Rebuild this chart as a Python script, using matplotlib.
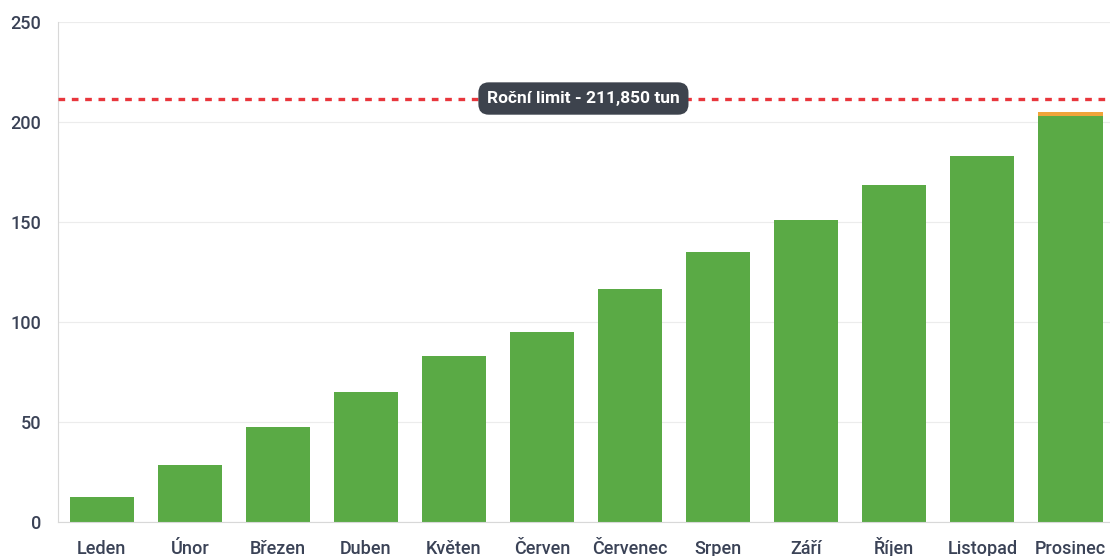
import matplotlib.pyplot as plt

# Monthly cumulative values (tonnes, thousands)
months = ["Leden", "Únor", "Březen", "Duben", "Květen", "Červen",
          "Červenec", "Srpen", "Září", "Říjen", "Listopad", "Prosinec"]
green_values = [12.5, 28.5, 47.5, 65, 83, 95, 116.5, 135, 151, 168.5, 183, 203]
orange_values = [0, 0, 0, 0, 0, 0, 0, 0, 0, 0, 0, 2]
limit_value = 211.85
limit_label = "Roční limit - 211,850 tun"
y_ticks = [0, 50, 100, 150, 200, 250]

plt.rcParams["font.family"] = ["Roboto", "DejaVu Sans"]

fig = plt.figure(figsize=(11.1, 5.56), dpi=100)
ax = fig.add_axes([0.052, 0.061, 0.952, 0.899])

x = range(len(months))
ax.bar(x, green_values, width=0.73, color="#5aaa45", zorder=2)
ax.bar(x, orange_values, width=0.73, bottom=green_values, color="#f0a43a", zorder=2)

ax.axhline(limit_value, color="#e8363c", linestyle=(0, (2.0, 2.0)), linewidth=2.4, zorder=3)
ax.text(5.47, limit_value, limit_label, ha="center", va="center", color="white",
        fontsize=12.5, fontweight="bold", zorder=4,
        bbox=dict(boxstyle="round,pad=0.5,rounding_size=0.6", fc="#3d434d", ec="none"))

ax.set_xlim(-0.5, 11.5)
ax.set_ylim(0, 250)
ax.set_yticks(y_ticks)
ax.set_xticks(list(x))
ax.set_xticklabels(months)
ax.tick_params(axis="both", length=0, labelcolor="#3a4256")
ax.tick_params(axis="y", pad=12, labelsize=13)
ax.tick_params(axis="x", pad=23, labelsize=13)
for lbl in ax.get_xticklabels() + ax.get_yticklabels():
    lbl.set_fontweight("medium")
for lbl in ax.get_xticklabels():
    lbl.set_va("baseline")

ax.grid(axis="y", color="#ececec", linewidth=0.8, zorder=0)
for side in ["top", "right"]:
    ax.spines[side].set_visible(False)
ax.spines["left"].set_color("#d8d8d8")
ax.spines["bottom"].set_color("#d8d8d8")

fig.savefig("out.png", dpi=100)
